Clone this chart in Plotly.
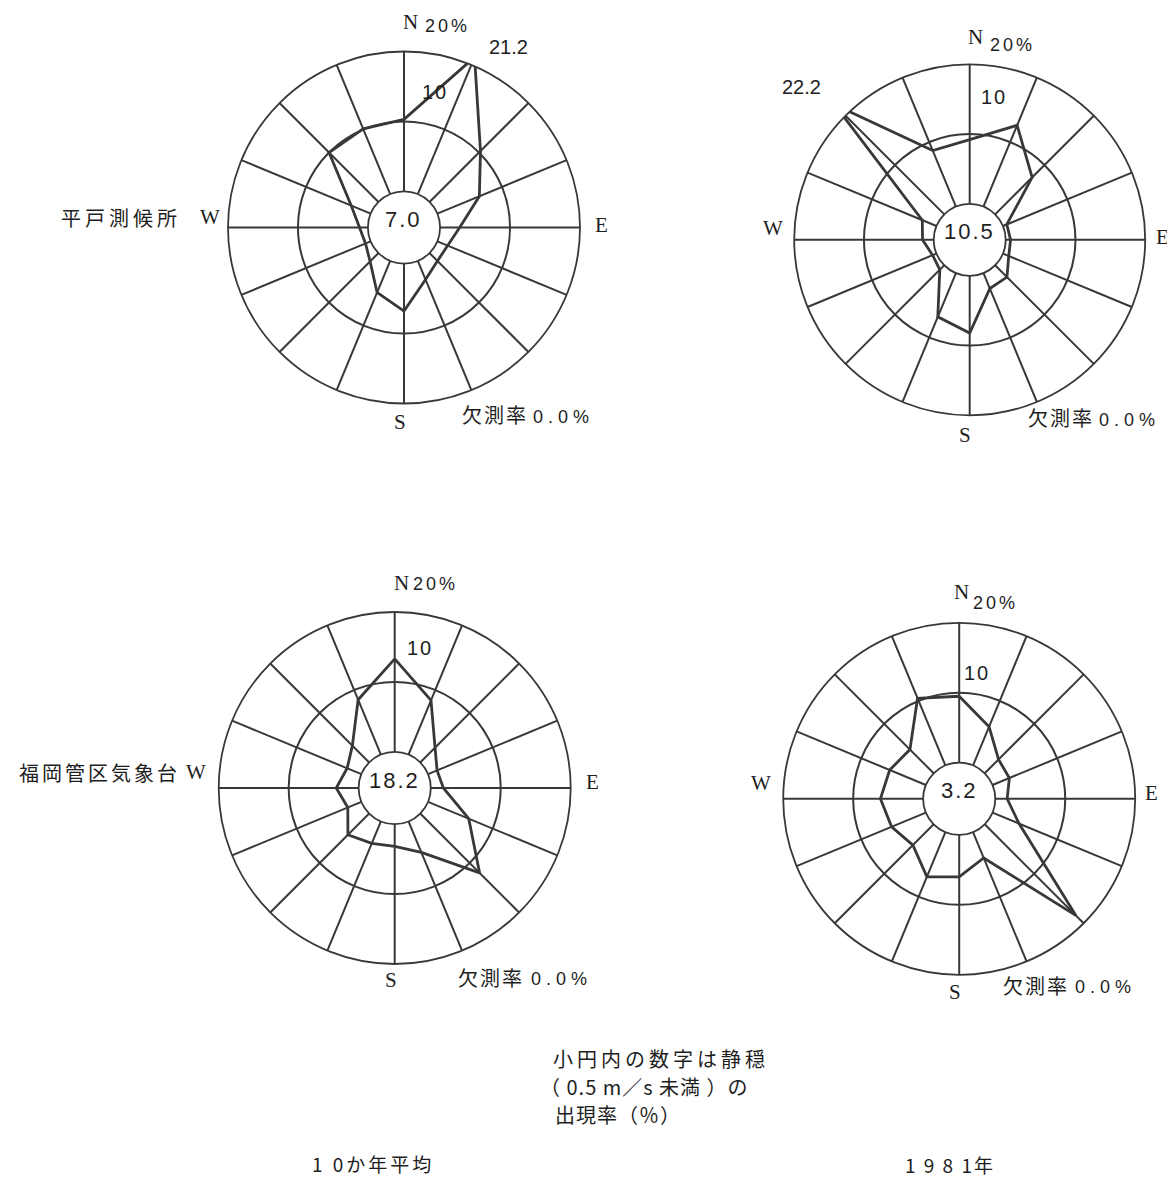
import plotly.graph_objects as go

W_PX, H_PX = 1175, 1186

directions = ["N", "NNE", "NE", "ENE", "E", "ESE", "SE", "SSE",
              "S", "SSW", "SW", "WSW", "W", "WNW", "NW", "NNW"]
angles = [i * 22.5 for i in range(16)]

# wind direction frequency (%)
hirado_10yr = [10.3, 21.2, 10.3, 6.5, 2.8, 1.6, 1.6, 2.9, 6.8, 4.9, 1.7, 0.8, 1.2, 3.0, 10.0, 10.1]
hirado_1981 = [9.2, 12.6, 7.5, 0.6, 0.7, 0.9, 2.4, 2.4, 8.2, 6.8, 0.9, 0.6, 1.6, 2.2, 22.2, 8.7]
fukuoka_10yr = [13.3, 8.4, 3.0, 1.4, 1.8, 6.3, 12.0, 4.8, 3.2, 3.4, 4.3, 2.1, 3.2, 2.2, 3.4, 8.5]
fukuoka_1981 = [9.5, 6.0, 2.8, 2.6, 1.7, 4.1, 18.4, 4.0, 6.0, 6.9, 4.2, 5.3, 6.1, 5.6, 4.8, 10.4]
calm = ["7.0", "10.5", "18.2", "3.2"]
missing = ["0.0%", "0.0%", "0.0%", "0.0%"]
stations = ["平戸測候所", "", "福岡管区気象台", ""]
series = [hirado_10yr, hirado_1981, fukuoka_10yr, fukuoka_1981]

# layout (pixel centres / radii of the four roses)
centers = [(396, 219.5), (961.7, 231.8), (386.7, 780), (951.2, 790.8)]
radii = [176, 175.5, 176, 176]

INK = "#383838"
TXT = "#1e1e1e"
SERIF = "Liberation Serif"
SANS = "Liberation Sans"
CJK = "Noto Sans CJK JP"

DY = -8      # vertical correction for annotation baseline
DXL = -10    # horizontal correction for left-anchored spaced text


def px(x, y):
    return x / W_PX, 1 - y / H_PX


fig = go.Figure()
layout = dict(width=W_PX, height=H_PX, margin=dict(l=0, r=0, t=0, b=0),
              paper_bgcolor="white", plot_bgcolor="white", showlegend=False)

for i, (vals, (cx, cy), R) in enumerate(zip(series, centers, radii)):
    name = "polar" if i == 0 else f"polar{i+1}"
    fig.add_trace(go.Scatterpolar(
        r=vals + vals[:1], theta=angles + angles[:1], mode="lines",
        line=dict(color=INK, width=2.8), subplot=name, hoverinfo="skip"))
    x0, y1 = px(cx - R, cy - R)
    x1, y0 = px(cx + R, cy + R)
    layout[name] = dict(
        domain=dict(x=[x0, x1], y=[y0, y1]),
        hole=0.205,
        bgcolor="white",
        radialaxis=dict(range=[0, 20], tickvals=[0, 10, 20], showticklabels=False,
                        ticks="", showline=False, gridcolor=INK, gridwidth=1.7),
        angularaxis=dict(rotation=90, direction="clockwise", tickmode="array",
                         tickvals=angles, showticklabels=False, ticks="",
                         showline=True, linecolor=INK, linewidth=1.8,
                         gridcolor=INK, gridwidth=1.7),
    )

fig.update_layout(**layout)

ann = []


def add(text, x, y, size, family, xanchor="center", spacing=0, weight="normal"):
    if spacing and xanchor == "left":
        x += DXL
    ax, ay = px(x, y + DY)
    if spacing:
        text = f'<span style="letter-spacing:{spacing}px">{text}</span>'
    ann.append(dict(text=text, x=ax, y=ay, xref="paper", yref="paper",
                    xanchor=xanchor, yanchor="middle", showarrow=False,
                    font=dict(size=size, family=family, color=TXT, weight=weight)))


# centre calm values
for (cx, cy), c in zip(centers, calm):
    add(c, cx, cy, 22, SANS, spacing=2)

# chart 1
add("N", 402, 22, 21, SERIF)
add("20%", 439, 26, 18, SANS, spacing=3)
add("21.2", 500, 47, 20, SANS)
add("10", 427, 92, 20, SANS, spacing=2)
add(stations[0], 175, 217, 20, CJK, xanchor="right", spacing=4)
add("W", 202, 217, 21, SERIF)
add("E", 593, 225, 21, SERIF)
add("S", 392, 422, 21, SERIF)
add("欠測率", 462, 415, 20, CJK, xanchor="left", spacing=2)
add(missing[0], 533, 417, 18, SANS, xanchor="left", spacing=5)

# chart 2
add("N", 967, 37, 21, SERIF)
add("20%", 1004, 45, 18, SANS, spacing=3)
add("10", 986, 97, 20, SANS, spacing=2)
add("22.2", 793, 87, 20, SANS)
add("W", 765, 228, 21, SERIF)
add("E", 1154, 237, 21, SERIF)
add("S", 957, 435, 21, SERIF)
add("欠測率", 1028, 418, 20, CJK, xanchor="left", spacing=2)
add(missing[1], 1099, 420, 18, SANS, xanchor="left", spacing=5)

# chart 3
add("N", 393, 583, 21, SERIF)
add("20%", 427, 584, 18, SANS, spacing=3)
add("10", 412, 648, 20, SANS, spacing=2)
add(stations[2], 174, 772, 20, CJK, xanchor="right", spacing=3)
add("W", 188, 772, 21, SERIF)
add("E", 584, 782, 21, SERIF)
add("S", 383, 980, 21, SERIF)
add("欠測率", 458, 977, 20, CJK, xanchor="left", spacing=2)
add(missing[2], 531, 979, 18, SANS, xanchor="left", spacing=5)

# chart 4
add("N", 953, 592, 21, SERIF)
add("20%", 987, 603, 18, SANS, spacing=3)
add("10", 969, 673, 20, SANS, spacing=2)
add("W", 753, 783, 21, SERIF)
add("E", 1143, 793, 21, SERIF)
add("S", 947, 992, 21, SERIF)
add("欠測率", 1003, 985, 20, CJK, xanchor="left", spacing=2)
add(missing[3], 1075, 987, 18, SANS, xanchor="left", spacing=5)

# notes
add("小円内の数字は静穏", 553, 1058, 20, CJK, xanchor="left", spacing=4)
add("（ 0.5 m／s 未満 ）の", 540, 1086, 20, CJK, xanchor="left", spacing=1)
add("出現率（％）", 555, 1114, 20, CJK, xanchor="left", spacing=1)
add("1 0か年平均", 312, 1163, 19, CJK, xanchor="left", spacing=3)
add("1 9 8 1年", 905, 1164, 19, CJK, xanchor="left", spacing=2)

fig.update_layout(annotations=ann)
fig.write_html("out.html")
